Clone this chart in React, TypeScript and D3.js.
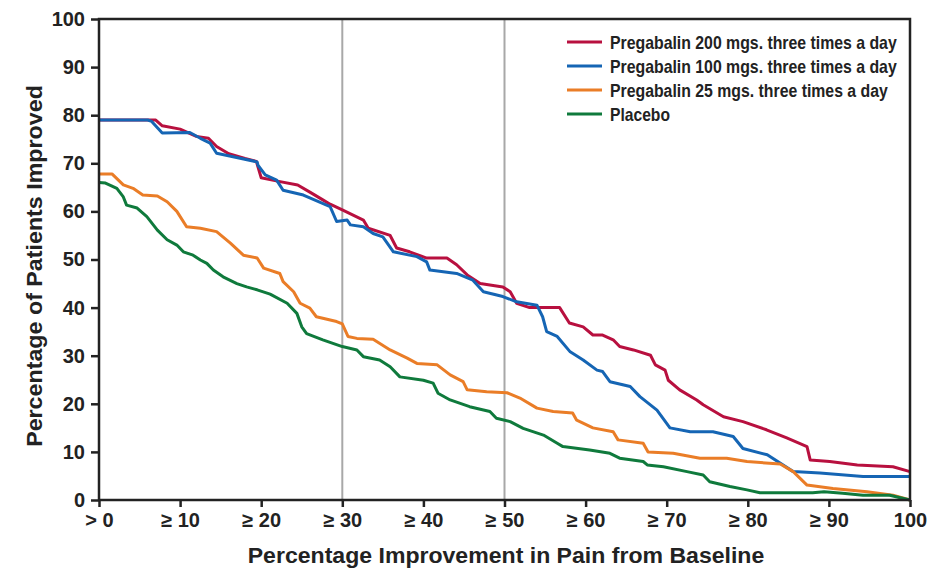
import React, { useRef, useEffect } from 'react';
import * as d3 from 'd3';

// [percent improvement, percent of patients]
const pregabalin200 = [
  [0, 79], [5, 79], [7, 79], [7.8, 77.8], [10, 77.1], [12, 75.6], [13.5, 75.2], [14.5, 73.5],
  [16, 72], [18, 71], [19.4, 70.4], [20, 67], [22, 66.3], [24.5, 65.5], [26, 64], [27.6, 62.4],
  [28.5, 61.5], [30, 60.3], [32.6, 58.2], [33.2, 56.5], [35.9, 55], [36.7, 52.4], [38.3, 51.6],
  [40.4, 50.3], [42.9, 50.3], [44.1, 48.9], [45.4, 46.8], [47, 45], [49.8, 44.3], [50.7, 43.3],
  [51.5, 40.9], [53.1, 40], [56.8, 40], [58, 36.8], [59.7, 36], [60.9, 34.3], [62.1, 34.3],
  [63.4, 33.3], [64.2, 31.9], [65.9, 31.2], [68, 30.1], [68.6, 28.1], [69.8, 27], [70.2, 24.9],
  [71.6, 22.9], [73.7, 20.8], [74.5, 19.8], [77, 17.3], [79.4, 16.3], [82.3, 14.6], [84.8, 12.9],
  [87.3, 11.1], [87.7, 8.3], [90.1, 8], [93.5, 7.3], [97.9, 6.9], [100, 5.9],
];

const pregabalin100 = [
  [0, 79], [6, 79], [6.5, 78.7], [7.8, 76.3], [11.2, 76.4], [12.5, 75.2], [13.7, 74.2], [14.5, 72.1],
  [16.1, 71.5], [19.5, 70.3], [19.6, 69.6], [20.5, 67.6], [21.9, 66.5], [22.7, 64.4], [25.2, 63.4],
  [28.5, 61], [29.3, 57.9], [30.6, 58.2], [31, 57.2], [32.6, 56.8], [33.8, 55.4], [35, 54.7],
  [36.3, 51.6], [39.2, 50.6], [40.4, 49.5], [40.8, 47.8], [44.1, 47.1], [46.1, 45.7], [47.4, 43.3],
  [49.8, 42.3], [51.5, 41.2], [54, 40.5], [54.7, 38.1], [55.2, 35], [56.5, 34], [58.1, 30.8],
  [59.7, 29.1], [61.4, 27], [62.1, 26.7], [63, 24.6], [65.5, 23.6], [66.7, 21.5], [68.8, 18.7],
  [70.4, 15], [72.9, 14.2], [75.7, 14.2], [78.2, 13.2], [79.4, 10.7], [82.4, 9.4], [85.6, 5.9],
  [88.9, 5.6], [94.2, 4.9], [100, 4.9],
];

const pregabalin25 = [
  [0, 67.8], [1.6, 67.8], [3, 65.5], [4.2, 64.8], [5.4, 63.4], [7.2, 63.2], [8.4, 62], [9.6, 60],
  [10.8, 56.8], [12.5, 56.5], [14.5, 55.8], [16.2, 53.4], [17.8, 50.9], [19.5, 50.3], [20.3, 48.2],
  [22.3, 47.1], [22.7, 45.4], [24, 43.3], [24.8, 40.9], [26, 39.9], [26.8, 38.1], [29.3, 37.1],
  [30, 36.6], [30.7, 34], [31.8, 33.6], [33.8, 33.4], [35.9, 31.2], [38, 29.5], [39.2, 28.4],
  [41.7, 28.1], [43.3, 26], [44.9, 24.6], [45.4, 22.9], [47.8, 22.5], [50.3, 22.3], [51.9, 21.2],
  [54, 19.1], [56, 18.4], [58.4, 18.1], [58.9, 16.6], [60.9, 15], [63.4, 14.2], [64, 12.5],
  [67.1, 11.8], [67.7, 10], [70.8, 9.7], [74.1, 8.7], [77.4, 8.7], [79.9, 8], [83.1, 7.6],
  [84, 7.5], [85.6, 5.9], [87.3, 3.1], [90.5, 2.4], [94.7, 1.7], [97.9, 1], [100, 0],
];

const placebo = [
  [0, 66], [0.8, 65.9], [2.2, 64.8], [3, 63], [3.4, 61.3], [4.7, 60.7], [5.9, 58.9], [7.2, 56.1],
  [8.4, 54.1], [9.6, 53], [10.4, 51.6], [11.6, 50.9], [12.5, 49.9], [13.3, 49.2], [14.1, 47.8],
  [15.3, 46.4], [17, 45], [18.2, 44.3], [19.5, 43.7], [21.1, 42.8], [23.2, 40.9], [24.4, 38.8],
  [25, 36], [25.6, 34.6], [27.6, 33.3], [30, 31.9], [31.8, 31.2], [32.6, 29.8], [34.6, 29.1],
  [35.9, 27.7], [37.1, 25.6], [40, 24.9], [41.2, 24.3], [41.8, 22.2], [43.3, 20.8], [45.7, 19.4],
  [48.2, 18.4], [49, 17], [50.7, 16.3], [52.3, 14.9], [54.8, 13.5], [56.5, 11.8], [57.2, 11.1],
  [60.5, 10.4], [63, 9.7], [64.2, 8.7], [67.1, 8], [67.6, 7.3], [69.6, 6.9], [72.5, 5.9],
  [74.5, 5.2], [75.3, 3.8], [77.8, 2.8], [79.9, 2.1], [81.5, 1.5], [88, 1.5], [89.4, 1.7],
  [91.7, 1.4], [94.2, 1], [97.5, 1], [100, 0],
];

const seriesNames = [
  'Pregabalin 200 mgs. three times a day',
  'Pregabalin 100 mgs. three times a day',
  'Pregabalin 25 mgs. three times a day',
  'Placebo',
];
const legendWidths = [287, 287, 278, 60];
const seriesColors = ['#b8103f', '#1565b4', '#ea7d27', '#0f7a3c'];
const seriesData = [pregabalin200, pregabalin100, pregabalin25, placebo];

const xTicks = [0, 10, 20, 30, 40, 50, 60, 70, 80, 90, 100];
const xTickLabels = ['> 0', '≥ 10', '≥ 20', '≥ 30', '≥ 40', '≥ 50', '≥ 60', '≥ 70', '≥ 80', '≥ 90', '100'];
const yTicks = [0, 10, 20, 30, 40, 50, 60, 70, 80, 90, 100];
const refLines = [30, 50];

const FONT = '"Liberation Sans Narrow", "Arial Narrow", "Liberation Sans", Arial, sans-serif';

// squeeze a text horizontally to a target width (the original uses a condensed face)
function fitText(sel, x, y, target, rotate = 0) {
  const natural = sel.node().getComputedTextLength() || target;
  const k = target / natural;
  sel.attr('transform', `translate(${x},${y}) rotate(${rotate}) scale(${k},1)`);
}

export default function App() {
  const svgRef = useRef(null);

  useEffect(() => {
    const W = 933;
    const H = 571;
    const margin = { top: 19, right: 23, bottom: 71, left: 99 };
    const width = W - margin.left - margin.right;
    const height = H - margin.top - margin.bottom;

    const root = d3.select(svgRef.current);
    root.selectAll('*').remove();
    root.attr('width', W).attr('height', H);
    root.append('rect').attr('width', W).attr('height', H).attr('fill', 'white');

    const svg = root.append('g').attr('transform', `translate(${margin.left},${margin.top})`);

    const x = d3.scaleLinear().domain([0, 100]).range([0, width]);
    const y = d3.scaleLinear().domain([0, 100]).range([height, 0]);

    // reference lines
    svg.selectAll('.ref')
      .data(refLines)
      .enter()
      .append('line')
      .attr('x1', d => x(d)).attr('x2', d => x(d))
      .attr('y1', 0).attr('y2', height)
      .attr('stroke', '#a8a8a8')
      .attr('stroke-width', 2);

    // curves
    const line = d3.line<number[]>()
      .x(d => x(d[0]))
      .y(d => y(d[1]));

    seriesData.forEach((data, i) => {
      svg.append('path')
        .datum(data)
        .attr('fill', 'none')
        .attr('stroke', seriesColors[i])
        .attr('stroke-width', 3)
        .attr('stroke-linejoin', 'round')
        .attr('d', line);
    });

    // frame
    svg.append('rect')
      .attr('width', width).attr('height', height)
      .attr('fill', 'none')
      .attr('stroke', '#222')
      .attr('stroke-width', 2.5);

    // x-axis
    const xAxis = svg.append('g')
      .attr('transform', `translate(0,${height})`)
      .call(d3.axisBottom(x).tickValues(xTicks).tickSize(7).tickPadding(6)
        .tickFormat((d, i) => xTickLabels[i]));
    // y-axis
    const yAxis = svg.append('g')
      .call(d3.axisLeft(y).tickValues(yTicks).tickSize(8).tickPadding(6));

    [xAxis, yAxis].forEach(g => {
      g.select('.domain').remove();
      g.selectAll('line').attr('stroke', '#222').attr('stroke-width', 2.5);
      g.selectAll('text')
        .attr('fill', '#222')
        .style('font-family', FONT)
        .style('font-weight', 'bold')
        .style('font-size', '20px');
    });

    // titles
    const xTitle = root.append('text')
      .attr('text-anchor', 'middle')
      .attr('fill', '#222')
      .style('font-family', FONT)
      .style('font-weight', 'bold')
      .style('font-size', '22px')
      .text('Percentage Improvement in Pain from Baseline');
    fitText(xTitle, 506, 563, 517);

    const yTitle = root.append('text')
      .attr('text-anchor', 'middle')
      .attr('fill', '#222')
      .style('font-family', FONT)
      .style('font-weight', 'bold')
      .style('font-size', '22px')
      .text('Percentage of Patients Improved');
    fitText(yTitle, 42, 266, 362, -90);

    // legend
    const legend = root.append('g').attr('transform', 'translate(567, 42)');
    seriesNames.forEach((name, i) => {
      const row = legend.append('g').attr('transform', `translate(0, ${i * 24})`);
      row.append('line')
        .attr('x1', 0).attr('x2', 35)
        .attr('stroke', seriesColors[i])
        .attr('stroke-width', 3);
      const t = row.append('text')
        .attr('fill', '#222')
        .style('font-family', FONT)
        .style('font-weight', 'bold')
        .style('font-size', '18px')
        .text(name);
      fitText(t, 43, 6.5, legendWidths[i]);
    });
  }, []);

  return (
    <svg ref={svgRef} style={{ position: 'absolute', left: 0, top: 0, display: 'block' }}></svg>
  );
}
